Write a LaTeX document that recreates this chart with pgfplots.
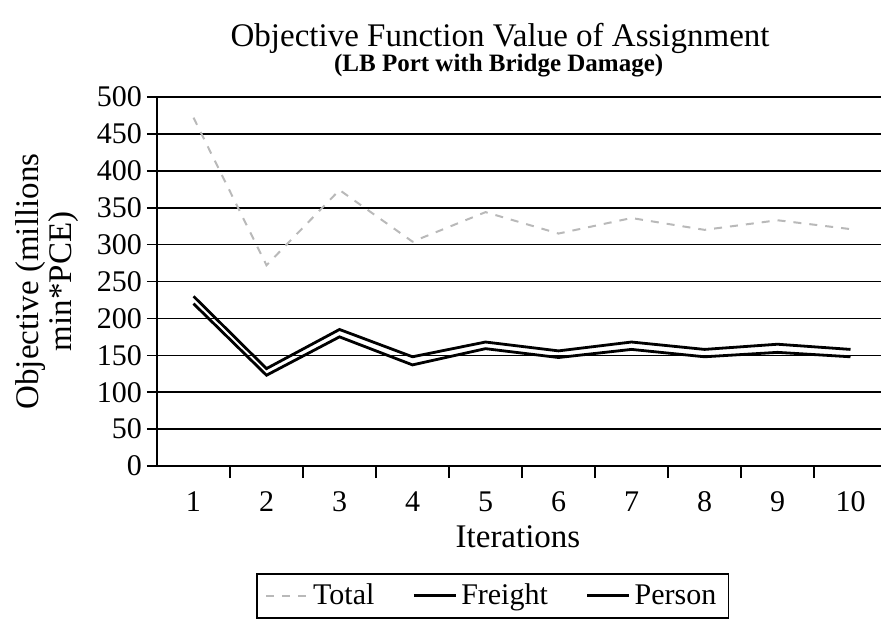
\documentclass[border=0pt]{standalone}
\usepackage{fontspec}
\setmainfont{Liberation Serif}
\usepackage{pgfplots}
\pgfplotsset{compat=1.18}
\begin{document}
\begin{tikzpicture}
\useasboundingbox (-78.5pt,-80pt) rectangle (362pt,233pt);
\begin{axis}[
  at={(0pt,0pt)}, anchor=south west,
  scale only axis, width=365pt, height=184.5pt,
  clip mode=individual,
  xmin=0.5, xmax=10.5, ymin=0, ymax=500,
  axis x line*=bottom, axis y line*=left,
  axis line style={black, line width=0.8pt},
  xtick={1,...,10},
  minor xtick={1.5,2.5,...,9.5},
  major x tick style={draw=none},
  ytick={0,50,...,500},
  ymajorgrids,
  grid style={black, line width=0.8pt},
  tick align=outside,
  major tick length=5pt, minor tick length=6pt,
  tick style={black, line width=0.8pt},
  /pgf/number format/assume math mode=true,
  tick label style={font=\fontsize{15}{15}\selectfont},
  yticklabel style={xshift=1pt},
  xticklabel style={anchor=base, yshift=-17.5pt},
  every axis y label/.style={at={(axis description cs:-0.151,0.5)}, rotate=90, anchor=center},
  every axis x label/.style={at={(axis description cs:0.4945,-0.192)}, anchor=center},
  ylabel={Objective (millions\\min*PCE)},
  ylabel style={align=center, font=\fontsize{16.5}{16.5}\selectfont},
  xlabel={Iterations},
  xlabel style={font=\fontsize{16.5}{16.5}\selectfont},
  legend style={at={(0.46,-0.352)}, anchor=center, draw=black, line width=0.8pt,
    font=\fontsize{15}{15}\selectfont, legend columns=3,
    /tikz/every even column/.append style={column sep=17pt},
    inner xsep=4pt, inner ysep=3pt},
  legend image code/.code={\draw[#1] (0pt,0pt) -- (21pt,0pt);},
]
\addplot[gray!55, line width=1pt, dash pattern=on 4pt off 4pt] coordinates {
  (1,472) (2,272) (3,374) (4,304) (5,344) (6,315) (7,336) (8,320) (9,333) (10,321)};
\addlegendentry{Total}
\addplot[black, line width=1.4pt] coordinates {
  (1,230) (2,132) (3,185) (4,148) (5,168) (6,156) (7,168) (8,158) (9,165) (10,158)};
\addlegendentry{Freight}
\addplot[black, line width=1.4pt] coordinates {
  (1,220) (2,123) (3,175) (4,137) (5,159) (6,147) (7,158) (8,148) (9,154) (10,148)};
\addlegendentry{Person}
\node[font=\fontsize{16.5}{16.5}\selectfont] at (axis description cs:0.47,1.160) {Objective Function Value of Assignment};
\node[font=\bfseries\fontsize{12.5}{12.5}\selectfont] at (axis description cs:0.468,1.084) {(LB Port with Bridge Damage)};
\end{axis}
\end{tikzpicture}
\end{document}
